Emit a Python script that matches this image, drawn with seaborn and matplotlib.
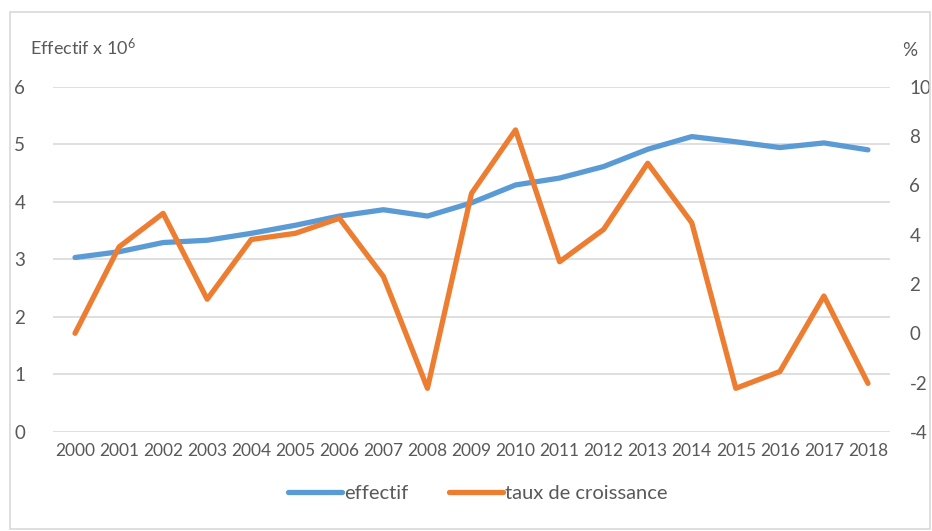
import matplotlib
matplotlib.use("Agg")
import matplotlib.pyplot as plt
import seaborn as sns
import pandas as pd
from matplotlib.patches import Rectangle

years = [str(y) for y in range(2000, 2019)]
effectif = [3.03, 3.13, 3.29, 3.33, 3.45, 3.59, 3.75, 3.86, 3.75, 3.98,
            4.29, 4.41, 4.61, 4.91, 5.13, 5.04, 4.94, 5.02, 4.90]
taux = [0.0, 3.5, 4.86, 1.38, 3.8, 4.05, 4.66, 2.3, -2.23, 5.67,
        8.24, 2.9, 4.21, 6.89, 4.48, -2.23, -1.55, 1.51, -2.03]
left_ticks = [0, 1, 2, 3, 4, 5, 6]
right_ticks = [-4, -2, 0, 2, 4, 6, 8, 10]

sns.set_theme(style="white")
plt.rcParams['font.family'] = ['Lato', 'DejaVu Sans']
plt.rcParams['mathtext.fontset'] = 'custom'
plt.rcParams['mathtext.rm'] = 'Lato'
plt.rcParams['mathtext.it'] = 'Lato'
plt.rcParams['mathtext.default'] = 'regular'
plt.rcParams['axes.unicode_minus'] = False

TXT = '#595959'
BLUE = '#5B9BD5'
ORANGE = '#ED7D31'

df = pd.DataFrame({'year': years, 'effectif': effectif, 'taux': taux})
df['x'] = range(len(years))

W, H = 932, 531
fig = plt.figure(figsize=(W / 100, H / 100), dpi=100)
ax = fig.add_axes([53 / W, 1 - 432 / H, (890 - 53) / W, (432 - 86.5) / H])
ax2 = ax.twinx()

# outer border
fig.patches.append(Rectangle((10 / W, 1 - 529 / H), (930 - 10) / W, (529 - 12) / H,
                             transform=fig.transFigure, fill=False,
                             edgecolor='#D9D9D9', linewidth=1.2))

sns.lineplot(data=df, x='x', y='effectif', ax=ax, color=BLUE, linewidth=3.8,
             label='effectif', legend=False, solid_capstyle='round')
sns.lineplot(data=df, x='x', y='taux', ax=ax2, color=ORANGE, linewidth=3.8,
             label='taux de croissance', legend=False, solid_capstyle='round')

ax.set_xlim(-0.5, len(years) - 0.5)
ax.set_ylim(0, 6)
ax2.set_ylim(-4, 10)
ax.set_yticks(left_ticks)
ax2.set_yticks(right_ticks)
ax.set_xticks(range(len(years)))
ax.set_xticklabels(years)

ax.grid(axis='y', color='#D9D9D9', linewidth=1.2)
ax.grid(axis='x', visible=False)
ax2.grid(False)
for a in (ax, ax2):
    for s in a.spines.values():
        s.set_visible(False)
    a.set_xlabel('')
    a.set_ylabel('')
ax.set_zorder(ax2.get_zorder() - 1)
ax.patch.set_visible(False)
ax2.patch.set_visible(False)
ax.tick_params(axis='y', length=0, pad=20, labelsize=13.5, labelcolor=TXT)
ax.tick_params(axis='x', length=0, pad=8, labelsize=12.5, labelcolor=TXT)
ax2.tick_params(axis='y', length=0, pad=14, labelsize=13.5, labelcolor=TXT)

fig.text(30 / W, 1 - 47 / H, 'Effectif x 10$^{6}$', fontsize=13, color=TXT,
         va='center', ha='left')
fig.text(902 / W, 1 - 50 / H, '%', fontsize=13.5, color=TXT, va='center', ha='left')

h1, l1 = ax.get_legend_handles_labels()
h2, l2 = ax2.get_legend_handles_labels()
leg = fig.legend(h1 + h2, l1 + l2, loc='center', bbox_to_anchor=(478 / W, 1 - 493 / H),
                 ncol=2, frameon=False, fontsize=14.5, handlelength=2.7,
                 handletextpad=0.1, columnspacing=2.0)
for t in leg.get_texts():
    t.set_color(TXT)

fig.savefig('out.png', dpi=100)
